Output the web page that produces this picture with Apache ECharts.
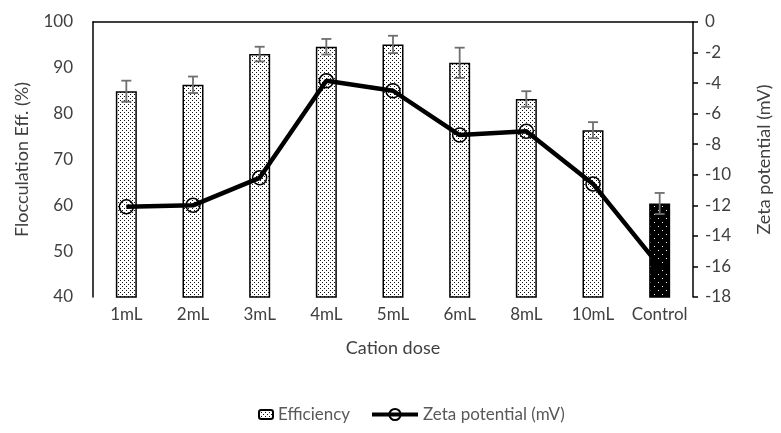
<!DOCTYPE html>
<html>
<head>
<meta charset="utf-8">
<script src="https://cdn.jsdelivr.net/npm/echarts@6/dist/echarts.min.js"></script>
<style>html,body{margin:0;padding:0;background:#fff}#c{width:781px;height:433px}</style>
</head>
<body>
<div id="c"></div>
<script>
const categories = ['1mL','2mL','3mL','4mL','5mL','6mL','8mL','10mL','Control'];
const efficiency = [84.9, 86.3, 93.0, 94.6, 95.1, 91.1, 83.2, 76.4, 60.4];
const efficiencyErr = [2.3, 1.8, 1.6, 1.7, 1.9, 3.3, 1.7, 1.75, 2.3];
const zeta = [-12.1, -12.0, -10.2, -3.85, -4.5, -7.4, -7.15, -10.6, -16.0];
const leftTicks = [40, 100, 10];
const rightTicks = [-18, 0, 2];

function makePattern(bg, fg, size, dots) {
  const c = document.createElement('canvas');
  c.width = size; c.height = size;
  const g = c.getContext('2d');
  g.fillStyle = bg; g.fillRect(0, 0, size, size);
  g.fillStyle = fg;
  dots.forEach(d => g.fillRect(d[0], d[1], 1, 1));
  return c;
}
const lightPat = makePattern('#ffffff', '#111111', 4, [[0,0],[2,2]]);
const darkPat = makePattern('#000000', '#ffffff', 8, [[2,2],[6,6]]);

const font = 'Lato, "Open Sans", sans-serif';
const chart = echarts.init(document.getElementById('c'));

const barData = efficiency.map((v, i) => ({
  value: v,
  itemStyle: { color: { image: i === efficiency.length - 1 ? darkPat : lightPat, repeat: 'repeat' } }
}));
const errData = efficiency.map((v, i) => [i, v - efficiencyErr[i], v + efficiencyErr[i]]);

chart.setOption({
  animation: false,
  textStyle: { fontFamily: font },
  grid: { left: 93, right: 78, top: 22, bottom: 136 },
  legend: [
    { data: ['Efficiency'], left: 253, top: 401, itemWidth: 14, itemHeight: 9, itemGap: 4,
      textStyle: { fontFamily: font, fontSize: 17, color: '#595959' } },
    { data: ['Zeta potential (mV)'], left: 365, top: 401, itemWidth: 46, itemHeight: 14,
      lineStyle: { width: 4 },
      textStyle: { fontFamily: font, fontSize: 17, color: '#595959' } }
  ],
  xAxis: {
    type: 'category', data: categories,
    name: 'Cation dose', nameLocation: 'middle', nameGap: 42,
    nameTextStyle: { fontSize: 18, color: '#404040', fontFamily: font },
    axisLine: { lineStyle: { color: '#000', width: 1.5 } },
    axisTick: { show: false },
    axisLabel: { fontSize: 17, color: '#404040', margin: 9, fontFamily: font, interval: 0 }
  },
  yAxis: [
    {
      type: 'value', min: leftTicks[0], max: leftTicks[1], interval: leftTicks[2],
      name: 'Flocculation Eff. (%)', nameLocation: 'middle', nameGap: 62, nameRotate: 90,
      nameTextStyle: { fontSize: 18, color: '#404040', fontFamily: font },
      axisLine: { show: true, lineStyle: { color: '#000', width: 1.5 } },
      axisTick: { show: false },
      splitLine: { show: false },
      axisLabel: { fontSize: 17, color: '#404040', margin: 20, fontFamily: font }
    },
    {
      type: 'value', min: rightTicks[0], max: rightTicks[1], interval: rightTicks[2],
      position: 'right',
      name: 'Zeta potential (mV)', nameLocation: 'middle', nameGap: 62, nameRotate: 90,
      nameTextStyle: { fontSize: 18, color: '#404040', fontFamily: font },
      axisLine: { show: true, lineStyle: { color: '#000', width: 1.5 } },
      axisTick: { show: true, length: 5, lineStyle: { color: '#000', width: 1.5 } },
      splitLine: { show: false },
      axisLabel: { fontSize: 17, color: '#404040', margin: 12, fontFamily: font }
    }
  ],
  series: [
    {
      name: 'Efficiency', type: 'bar', yAxisIndex: 0, barWidth: 21,
      data: barData,
      itemStyle: { color: { image: lightPat, repeat: 'repeat' }, borderColor: '#000', borderWidth: 1.5 },
      z: 2
    },
    {
      name: 'err', type: 'custom', yAxisIndex: 0, z: 3,
      data: errData,
      renderItem: function (params, api) {
        const x = api.value(0);
        const lo = api.coord([x, api.value(1)]);
        const hi = api.coord([x, api.value(2)]);
        const hw = 5;
        const st = { stroke: '#6f6f6f', lineWidth: 1.8 };
        return { type: 'group', children: [
          { type: 'line', shape: { x1: lo[0], y1: lo[1], x2: hi[0], y2: hi[1] }, style: st },
          { type: 'line', shape: { x1: lo[0]-hw, y1: lo[1], x2: lo[0]+hw, y2: lo[1] }, style: st },
          { type: 'line', shape: { x1: hi[0]-hw, y1: hi[1], x2: hi[0]+hw, y2: hi[1] }, style: st }
        ]};
      }
    },
    {
      name: 'Zeta potential (mV)', type: 'line', yAxisIndex: 1, z: 4,
      data: zeta,
      symbol: 'circle', symbolSize: 14, showAllSymbol: true,
      lineStyle: { color: '#000', width: 4.5 },
      itemStyle: { color: 'rgba(255,255,255,0)', borderColor: '#000', borderWidth: 1.5 }
    }
  ]
});
</script>
</body>
</html>
